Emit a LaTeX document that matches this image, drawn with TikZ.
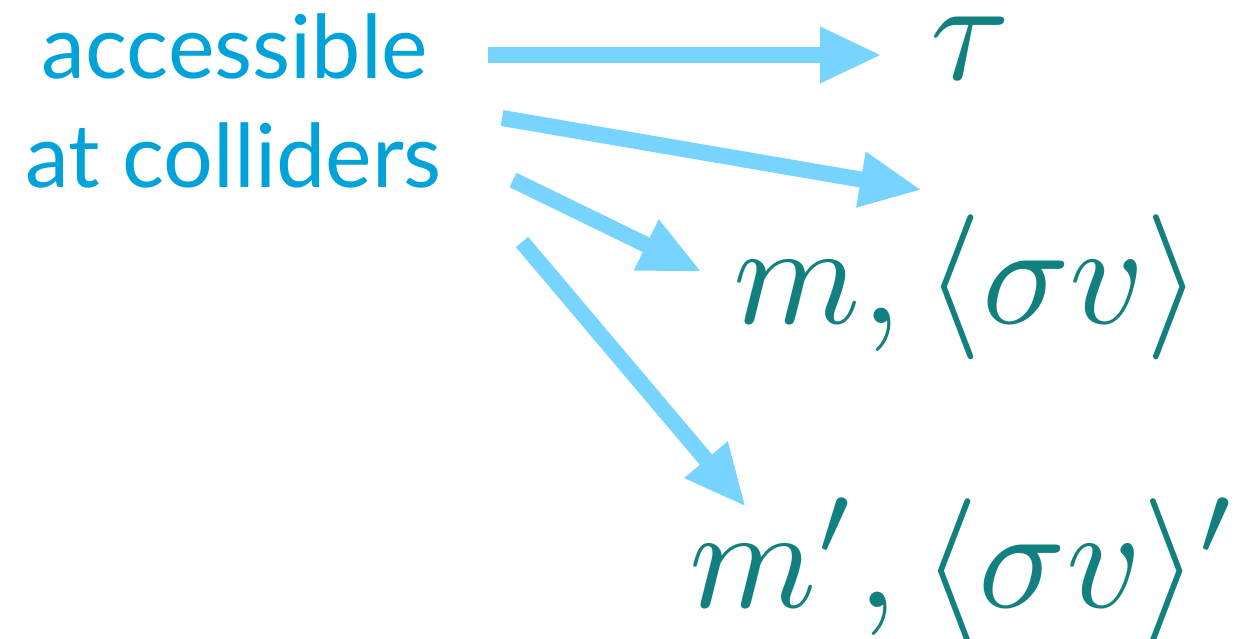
\documentclass[tikz,border=0pt]{standalone}
\usepackage{fontspec}
\setsansfont{Lato}
\usetikzlibrary{arrows.meta}
\definecolor{txtblue}{RGB}{0,163,217}
\definecolor{mathteal}{RGB}{19,128,128}
\definecolor{arrowblue}{RGB}{119,212,255}
\tikzset{
  lbl/.style={font=\sffamily\fontsize{88}{108}\selectfont, text=txtblue, inner sep=0pt, anchor=base},
  mth/.style={scale=14.5, text=mathteal, inner sep=0pt, anchor=base west},
  arr/.style={draw=arrowblue, line width=16pt, -{Triangle[length=62pt,width=52pt]}, shorten >=0pt}
}
\begin{document}
\begin{tikzpicture}[x=1pt,y=-1pt]
\useasboundingbox (0,0) rectangle (1241,639);
\node[lbl] (l1) at (235,79) {accessible};
\node[lbl] (l2) at (233.5,188) {at colliders};
\node[mth] (tau) at (928,80) {$\tau$};
\node[mth] (m1) at (731,323) {$m,\langle\sigma v\rangle$};
\node[mth] (m2) at (687,607) {$m',\langle\sigma v\rangle'$};
\coordinate (s1) at (488,55);
\coordinate (e1) at (882,55);
\coordinate (s2) at (502,118);
\coordinate (e2) at (922,190);
\coordinate (s3) at (513,180);
\coordinate (e3) at (702,272);
\coordinate (s4) at (522,242);
\coordinate (e4) at (746,507);
\draw[arr] (s1) -- (e1);
\draw[arr] (s2) -- (e2);
\draw[arr] (s3) -- (e3);
\draw[arr] (s4) -- (e4);
\end{tikzpicture}
\end{document}
